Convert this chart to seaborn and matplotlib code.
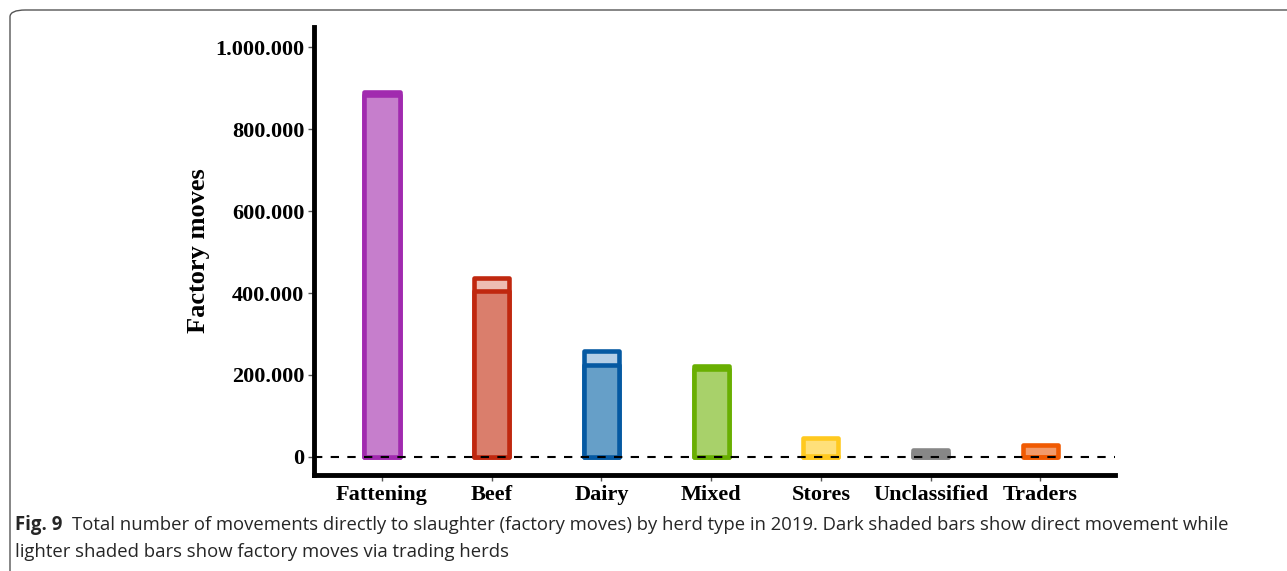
import matplotlib.pyplot as plt
import seaborn as sns
import pandas as pd
from matplotlib.patches import FancyBboxPatch

# data
herd_types = ["Fattening", "Beef", "Dairy", "Mixed", "Stores", "Unclassified", "Traders"]
direct_moves = [884000, 405000, 224000, 214000, 2000, 10000, 1000]
via_traders = [6000, 31000, 34000, 8000, 44000, 7000, 27000]
edge_colors = ["#A12AAF", "#C0280F", "#0559A2", "#69AF02", "#FFC91F", "#878787", "#F05A02"]
dark_fills = ["#C67ECC", "#DA7E6C", "#669FC8", "#A8D16A", "#FFE07A", "#878787", "#F29A6A"]
light_fills = ["#E8C4EC", "#EEBDB3", "#B3CEE6", "#D2E8AE", "#FFE07A", "#878787", "#F29A6A"]
y_ticks = [0, 200000, 400000, 600000, 800000, 1000000]
y_tick_labels = ["0", "200.000", "400.000", "600.000", "800.000", "1.000.000"]

df = pd.DataFrame({
    "herd": herd_types,
    "direct": direct_moves,
    "total": [d + t for d, t in zip(direct_moves, via_traders)],
})

sns.set_style("white")
plt.rcParams["font.family"] = ["Liberation Serif", "DejaVu Serif"]

fig = plt.figure(figsize=(12.87, 5.71), dpi=100)
ax = fig.add_axes([314 / 1287, 1 - 475 / 571, (1115 - 314) / 1287, (475 - 27) / 571])

# total bars (light part on top), then direct bars over them
sns.barplot(data=df, x="herd", y="total", ax=ax, width=0.32, color="white")
n = len(ax.patches)
for p, fc, ec in zip(ax.patches, light_fills, edge_colors):
    p.set_facecolor(fc)
    p.set_edgecolor(ec)
    p.set_linewidth(3.3)
    p.set_joinstyle("round")
sns.barplot(data=df, x="herd", y="direct", ax=ax, width=0.32, color="white")
for p, fc, ec in zip(ax.patches[n:], dark_fills, edge_colors):
    p.set_facecolor(fc)
    p.set_edgecolor(ec)
    p.set_linewidth(3.3)
    p.set_joinstyle("round")

ax.axhline(0, color="black", linestyle=(0, (4, 4)), linewidth=1.5)

ax.set_xlim(-0.62, 6.68)
ax.set_ylim(-44000, 1049000)
ax.set_yticks(y_ticks)
ax.set_yticklabels(y_tick_labels)
ax.set_xlabel("")
ax.set_ylabel("Factory moves", fontsize=19, fontweight="bold", labelpad=4, color="black")

for side in ["top", "right"]:
    ax.spines[side].set_visible(False)
for side in ["left", "bottom"]:
    ax.spines[side].set_linewidth(3.5)
    ax.spines[side].set_color("black")

ax.tick_params(axis="both", which="major", length=4, width=1, color="#555555",
               left=True, bottom=True, labelsize=16, pad=3, labelcolor="black")
for lab in ax.get_xticklabels() + ax.get_yticklabels():
    lab.set_fontweight("bold")

# caption and frame (frame runs off the right and bottom edges)
fig.patches.append(FancyBboxPatch((10 / 1287, -0.1), 1.2, 1.1 - 10 / 571,
                                  boxstyle="round,pad=0,rounding_size=0.012",
                                  transform=fig.transFigure, fill=False,
                                  edgecolor="#555555", linewidth=1.0))
fig.text(15 / 1287, 1 - 525 / 571, "Fig. 9", family="Open Sans", fontweight="bold",
         fontsize=13.4, va="center", ha="left")
fig.text(72 / 1287, 1 - 525 / 571,
         "Total number of movements directly to slaughter (factory moves) by herd type in 2019. "
         "Dark shaded bars show direct movement while",
         family="Open Sans", fontsize=13.3, va="center", ha="left")
fig.text(15 / 1287, 1 - 552 / 571,
         "lighter shaded bars show factory moves via trading herds",
         family="Open Sans", fontsize=13.3, va="center", ha="left")

fig.savefig("out.png", dpi=100)
